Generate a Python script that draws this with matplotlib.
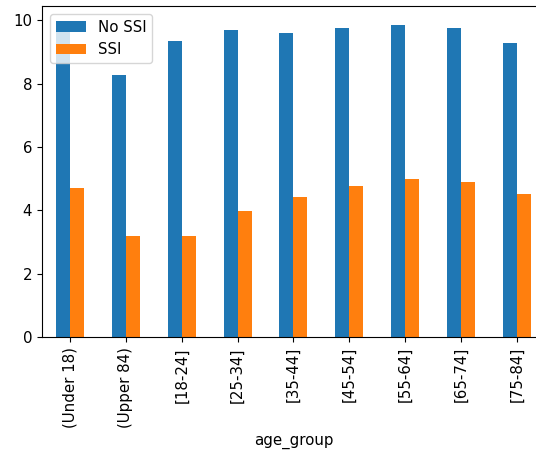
import pandas as pd
import matplotlib
matplotlib.use("Agg")
import matplotlib.pyplot as plt

plt.rcParams["font.size"] = 10.8

# mean values per age group, split by SSI status
age_groups = ["(Under 18)", "(Upper 84)", "[18-24]", "[25-34]", "[35-44]",
              "[45-54]", "[55-64]", "[65-74]", "[75-84]"]
no_ssi = [9.95, 8.26, 9.36, 9.69, 9.59, 9.74, 9.85, 9.74, 9.27]
ssi = [4.71, 3.18, 3.18, 3.99, 4.42, 4.76, 5.00, 4.90, 4.53]

df = pd.DataFrame({"No SSI": no_ssi, "SSI": ssi},
                  index=pd.Index(age_groups, name="age_group"))

fig = plt.figure(figsize=(5.36, 4.55), dpi=100)
ax = fig.add_axes([0.0784, 0.2587, 0.938, 0.728])
df.plot.bar(ax=ax)
ax.legend(loc="upper left")

fig.savefig("out.png", dpi=100)
